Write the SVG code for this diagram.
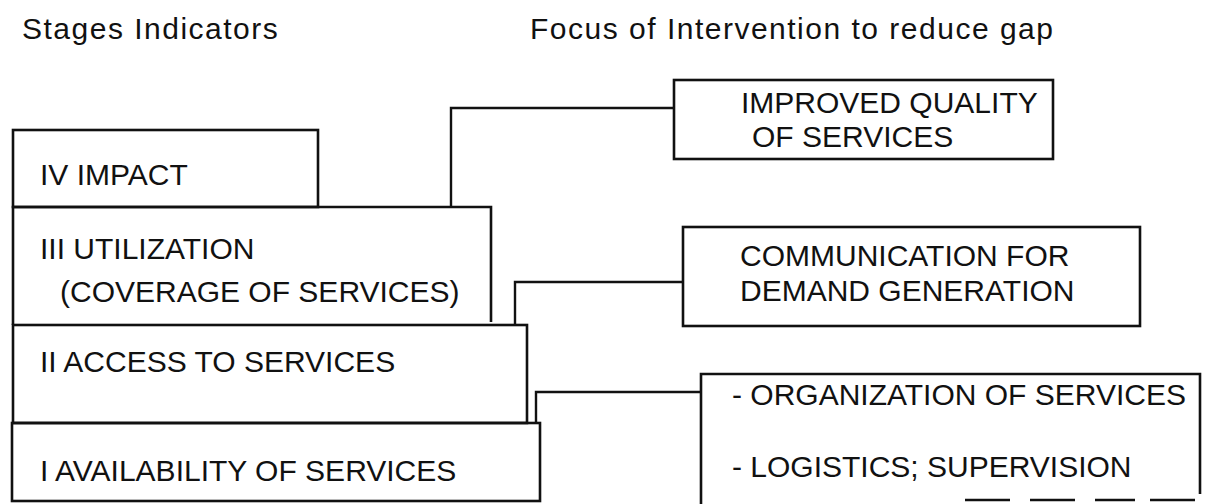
<svg xmlns="http://www.w3.org/2000/svg" width="1209" height="504" viewBox="0 0 1209 504">
  <style>
    .box { fill: none; stroke: #111; stroke-width: 2.6; }
    .wire { fill: none; stroke: #111; stroke-width: 2.4; }
    .lbl { font-family: "Liberation Sans", Arial, Helvetica, sans-serif; font-size: 30px; fill: #111; }
    .head { font-family: "Liberation Sans", Arial, Helvetica, sans-serif; font-size: 30px; letter-spacing: 1.5px; fill: #111; }
  </style>
  <rect width="1209" height="504" fill="#fff"/>

  <!-- column headings -->
  <text class="head" x="22" y="39">Stages Indicators</text>
  <text class="head" x="530" y="39">Focus of Intervention to reduce gap</text>

  <!-- stage stack, widest stage at the bottom -->
  <g id="stage-iv">
    <rect class="box" x="13" y="130" width="305" height="77"/>
    <text class="lbl" x="40" y="185">IV IMPACT</text>
  </g>
  <g id="stage-iii">
    <path class="box" d="M13 325 V207 H491 V322"/>
    <text class="lbl" x="40" y="259">III UTILIZATION</text>
    <text class="lbl" x="60" y="302">(COVERAGE OF SERVICES)</text>
  </g>
  <g id="stage-ii">
    <rect class="box" x="13" y="325" width="514" height="98"/>
    <text class="lbl" x="40" y="372">II ACCESS TO SERVICES</text>
  </g>
  <g id="stage-i">
    <rect class="box" x="12" y="423" width="528" height="78"/>
    <text class="lbl" x="40" y="481">I AVAILABILITY OF SERVICES</text>
  </g>

  <!-- intervention boxes -->
  <g id="quality">
    <rect class="box" x="674" y="80" width="379" height="79"/>
    <text class="lbl" x="741" y="113">IMPROVED QUALITY</text>
    <text class="lbl" x="752" y="147">OF SERVICES</text>
  </g>
  <g id="communication">
    <rect class="box" x="683" y="227" width="457" height="99"/>
    <text class="lbl" x="740" y="266" font-size="30.6">COMMUNICATION FOR</text>
    <text class="lbl" x="740" y="301" font-size="30.6">DEMAND GENERATION</text>
  </g>
  <g id="organization">
    <path class="box" d="M701 504 V374 H1200 V494"/>
    <path class="box" d="M965 500 H1010 M1030 500 H1075 M1095 500 H1135 M1150 500 H1195"/>
    <text class="lbl" x="732" y="405">- ORGANIZATION OF SERVICES</text>
    <text class="lbl" x="732" y="477">- LOGISTICS; SUPERVISION</text>
  </g>

  <!-- connectors -->
  <g id="connectors">
    <path class="wire" d="M451 207 V108 H674"/>
    <path class="wire" d="M515 325 V282 H683"/>
    <path class="wire" d="M536 423 V392 H701"/>
  </g>
</svg>
